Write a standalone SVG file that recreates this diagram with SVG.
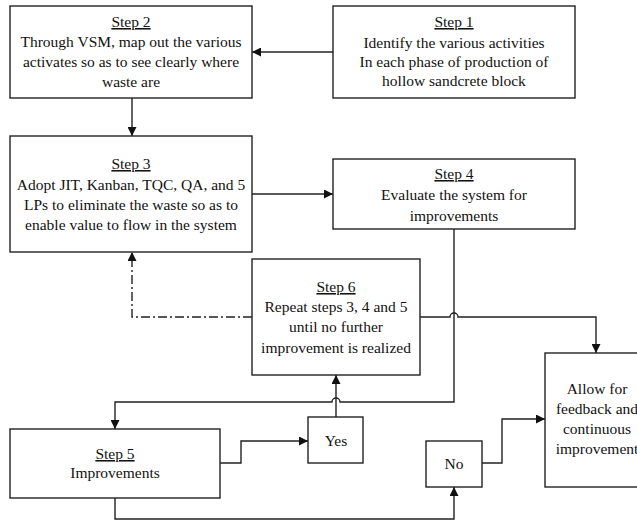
<svg xmlns="http://www.w3.org/2000/svg" width="637" height="522" viewBox="0 0 637 522">
<defs>
<marker id="ah" viewBox="0 0 10 10" refX="10" refY="5" markerWidth="9" markerHeight="9" markerUnits="userSpaceOnUse" orient="auto">
<path d="M0,0 L10,5 L0,10 z" fill="#111"/>
</marker>
</defs>
<style>
.box{fill:#fff;stroke:#222;stroke-width:1.4}
text{font-family:'Liberation Serif','Times New Roman',serif;font-size:15.5px;fill:#111;text-anchor:middle}
.u{text-decoration:underline}
.c{fill:none;stroke:#222;stroke-width:1.4}
.dd{stroke-dasharray:9 3 2 3}
</style>
<rect width="637" height="522" fill="#fff"/>
<g id="connectors">
<path class="c" d="M333,52 H252" marker-end="url(#ah)"/>
<path class="c" d="M132,98 V136" marker-end="url(#ah)"/>
<path class="c" d="M252,194 H333" marker-end="url(#ah)"/>
<path class="c" d="M454,229 V402 H340 A4,4 0 0 0 332,402 H115 V429" marker-end="url(#ah)"/>
<path class="c" d="M420,317 H450 A4,4 0 0 1 458,317 H596 V353" marker-end="url(#ah)"/>
<path class="c dd" d="M252,317 H132 V252" marker-end="url(#ah)"/>
<path class="c" d="M220,463 H241 V441 H308" marker-end="url(#ah)"/>
<path class="c" d="M336,417 V375" marker-end="url(#ah)"/>
<path class="c" d="M115,498 V519 H454 V487" marker-end="url(#ah)"/>
<path class="c" d="M482,463 H502 V419 H545" marker-end="url(#ah)"/>
</g>
<g id="step1">
<rect class="box" x="333" y="6" width="242" height="92"/>
<text x="454" y="27"><tspan class="u">Step 1</tspan></text>
<text x="454" y="48">Identify the various activities</text>
<text x="454" y="67">In each phase of production of</text>
<text x="454" y="86">hollow sandcrete block</text>
</g>
<g id="step2">
<rect class="box" x="10" y="6" width="242" height="92"/>
<text x="131" y="27"><tspan class="u">Step 2</tspan></text>
<text x="131" y="47">Through VSM, map out the various</text>
<text x="131" y="67">activates so as to see clearly where</text>
<text x="131" y="87">waste are</text>
</g>
<g id="step3">
<rect class="box" x="10" y="136" width="242" height="116"/>
<text x="131" y="169"><tspan class="u">Step 3</tspan></text>
<text x="131" y="190">Adopt JIT, Kanban, TQC, QA, and 5</text>
<text x="131" y="210">LPs to eliminate the waste so as to</text>
<text x="131" y="230">enable value to flow in the system</text>
</g>
<g id="step4">
<rect class="box" x="333" y="159" width="242" height="70"/>
<text x="454" y="179"><tspan class="u">Step 4</tspan></text>
<text x="454" y="200">Evaluate the system for</text>
<text x="454" y="221">improvements</text>
</g>
<g id="step6">
<rect class="box" x="252" y="259" width="168" height="116"/>
<text x="336" y="292"><tspan class="u">Step 6</tspan></text>
<text x="336" y="312">Repeat steps 3, 4 and 5</text>
<text x="336" y="332">until no further</text>
<text x="336" y="353">improvement is realized</text>
</g>
<g id="step5">
<rect class="box" x="10" y="429" width="210" height="69"/>
<text x="115" y="459"><tspan class="u">Step 5</tspan></text>
<text x="115" y="478">Improvements</text>
</g>
<g id="yes">
<rect class="box" x="308" y="417" width="55" height="46"/>
<text x="336" y="446">Yes</text>
</g>
<g id="no">
<rect class="box" x="426" y="441" width="56" height="46"/>
<text x="454" y="469">No</text>
</g>
<g id="allow">
<rect class="box" x="545" y="353" width="104" height="134"/>
<text x="597" y="394">Allow for</text>
<text x="597" y="414">feedback and</text>
<text x="597" y="434">continuous</text>
<text x="597" y="454">improvement</text>
</g>
</svg>
